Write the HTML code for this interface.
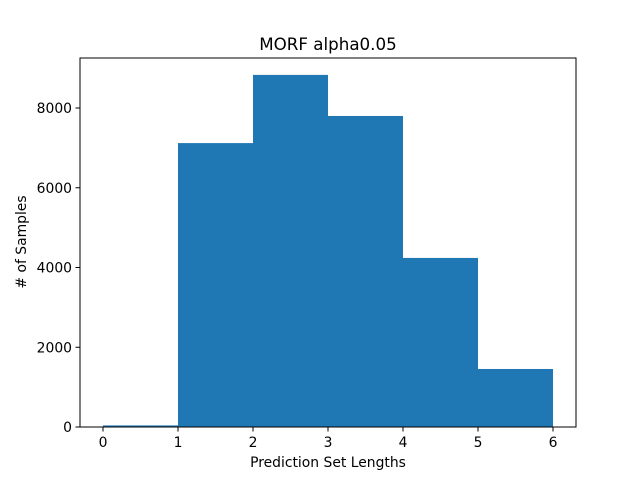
<!DOCTYPE html>
<html><head><meta charset="utf-8"><style>
body{margin:0;background:#fff}
svg text{font-family:"DejaVu Sans","Liberation Sans",sans-serif;fill:#000}
</style></head><body>
<svg id="chart" width="640" height="480">
<rect width="640" height="480" fill="#fff"/>
<text x="328" y="50" font-size="16.7" text-anchor="middle">MORF alpha0.05</text>
<g id="bars"></g>
<rect x="80" y="58" width="496" height="369" fill="none" stroke="#000" stroke-width="1"/>
<g id="xticks"></g><g id="yticks"></g>
<text x="328" y="467" font-size="13.9" text-anchor="middle">Prediction Set Lengths</text>
<text transform="translate(26,242) rotate(-90)" font-size="13.9" text-anchor="middle"># of Samples</text>
</svg>
<script>
const binEdges=[0,1,2,3,4,5,6];
const counts=[40,7120,8830,7800,4240,1455];
const xTickLabels=[0,1,2,3,4,5,6];
const yTickLabels=[0,2000,4000,6000,8000];
const NS="http://www.w3.org/2000/svg";
function xs(v){return 103+v*75;}
function ys(v){return 427-v*0.039875;}
const bars=document.getElementById('bars');
counts.forEach((c,i)=>{
  const r=document.createElementNS(NS,'rect');
  r.setAttribute('x',xs(binEdges[i]));
  r.setAttribute('width',xs(binEdges[i+1])-xs(binEdges[i]));
  r.setAttribute('y',ys(c));
  r.setAttribute('height',ys(0)-ys(c));
  r.setAttribute('fill','#1f77b4');
  
  
  bars.appendChild(r);
});
const xt=document.getElementById('xticks');
xTickLabels.forEach(v=>{
  const l=document.createElementNS(NS,'line');
  l.setAttribute('x1',xs(v));l.setAttribute('x2',xs(v));
  l.setAttribute('y1',427);l.setAttribute('y2',431.5);
  l.setAttribute('stroke','#000');
  
  
  xt.appendChild(l);
  const t=document.createElementNS(NS,'text');
  t.setAttribute('x',xs(v));t.setAttribute('y',447);
  t.setAttribute('font-size','13.9');t.setAttribute('text-anchor','middle');
  t.textContent=v;
  
  
  xt.appendChild(t);
});
const yt=document.getElementById('yticks');
yTickLabels.forEach(v=>{
  const l=document.createElementNS(NS,'line');
  l.setAttribute('x1',75.5);l.setAttribute('x2',80);
  l.setAttribute('y1',ys(v));l.setAttribute('y2',ys(v));
  l.setAttribute('stroke','#000');
  
  
  yt.appendChild(l);
  const t=document.createElementNS(NS,'text');
  t.setAttribute('x',72);t.setAttribute('y',ys(v)+5);
  t.setAttribute('font-size','13.9');t.setAttribute('text-anchor','end');
  t.textContent=v;
  
  
  yt.appendChild(t);
});
</script>
</body></html>
